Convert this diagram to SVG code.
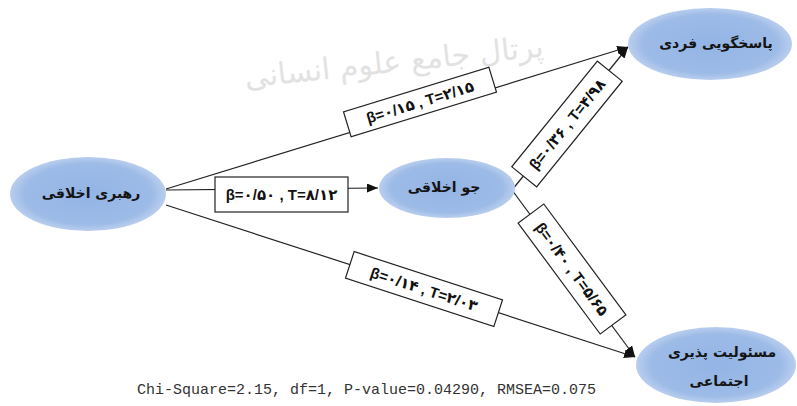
<svg xmlns="http://www.w3.org/2000/svg" width="797" height="406" viewBox="0 0 797 406">
<defs>
<radialGradient id="g" cx="50%" cy="50%" r="50%">
<stop offset="0" stop-color="#93b4e5"/>
<stop offset="0.82" stop-color="#9dbbe7"/>
<stop offset="1" stop-color="#b9ceee"/>
</radialGradient>
<marker id="ah" markerUnits="userSpaceOnUse" markerWidth="12" markerHeight="10" refX="11" refY="4.5" orient="auto">
<path d="M0,0 L11,4.5 L0,9 z" fill="#111"/>
</marker>
<style>
.node{fill:url(#g);stroke:none}
.nt{font-family:"DejaVu Sans",sans-serif;font-weight:bold;font-size:14px;fill:#141414;text-anchor:middle}
.edge{stroke:#222;stroke-width:1.2;fill:none}
.arrow{marker-end:url(#ah)}
.lb{fill:#fff;stroke:#222;stroke-width:1.2}
.lt{font-family:"Liberation Sans","DejaVu Sans",sans-serif;font-weight:bold;font-size:15px;fill:#111;text-anchor:middle}
.wm{font-family:"DejaVu Sans",sans-serif;font-size:30px;fill:#e2e2e2;text-anchor:middle}
.fit{font-family:"Liberation Mono",monospace;font-size:15px;fill:#333}
</style>
</defs>
<rect width="797" height="406" fill="#fff"/>
<text class="wm" transform="translate(395,72) rotate(-6)">پرتال جامع علوم انسانی</text>

<g id="connectors">
<line class="edge arrow" x1="166" y1="189" x2="628" y2="47"/>
<line class="edge arrow" x1="166" y1="190" x2="378" y2="188"/>
<line class="edge arrow" x1="166" y1="205" x2="635" y2="357"/>
<line class="edge arrow" x1="512" y1="190" x2="628" y2="47"/>
<line class="edge arrow" x1="512" y1="190" x2="635" y2="357"/>
<g id="label-rahbari-pasokh" transform="translate(420,102) rotate(-17)">
<rect class="lb" x="-76" y="-13" width="152" height="26"/>
<text class="lt" x="0" y="5.5">β=۰/۱۵ , T=۲/۱۵</text>
</g>
<g id="label-rahbari-jo">
<rect class="lb" x="215" y="177" width="133" height="35"/>
<text class="lt" x="281.5" y="200">β=۰/۵۰ , T=۸/۱۲</text>
</g>
<g id="label-rahbari-masouliat" transform="translate(424,289) rotate(18)">
<rect class="lb" x="-78" y="-14" width="156" height="28"/>
<text class="lt" x="0" y="5.5">β=۰/۱۴ , T=۲/۰۳</text>
</g>
<g id="label-jo-pasokh" transform="translate(567,124) rotate(-51)">
<rect class="lb" x="-68" y="-16" width="136" height="32"/>
<text class="lt" x="0" y="5.5">β=۰/۳۶ , T=۴/۹۸</text>
</g>
<g id="label-jo-masouliat" transform="translate(572,269) rotate(53.5)">
<rect class="lb" x="-69" y="-16" width="138" height="32"/>
<text class="lt" x="0" y="5.5">β=۰/۴۰ , T=۵/۶۵</text>
</g>
</g>

<g id="node-rahbari">
<ellipse class="node" cx="88" cy="194" rx="78" ry="37"/>
<text class="nt" x="91" y="198">رهبری اخلاقی</text>
</g>
<g id="node-jo">
<ellipse class="node" cx="447" cy="188" rx="68" ry="30"/>
<text class="nt" x="444" y="192">جو اخلاقی</text>
</g>
<g id="node-pasokh">
<ellipse class="node" cx="710" cy="44" rx="82" ry="36"/>
<text class="nt" x="716" y="48">پاسخگویی فردی</text>
</g>
<g id="node-masouliat">
<ellipse class="node" cx="716" cy="365" rx="80" ry="38"/>
<text class="nt" x="722" y="357">مسئولیت پذیری</text>
<text class="nt" x="719" y="386">اجتماعی</text>
</g>

<text class="fit" x="137" y="394">Chi-Square=2.15, df=1, P-value=0.04290, RMSEA=0.075</text>
</svg>
